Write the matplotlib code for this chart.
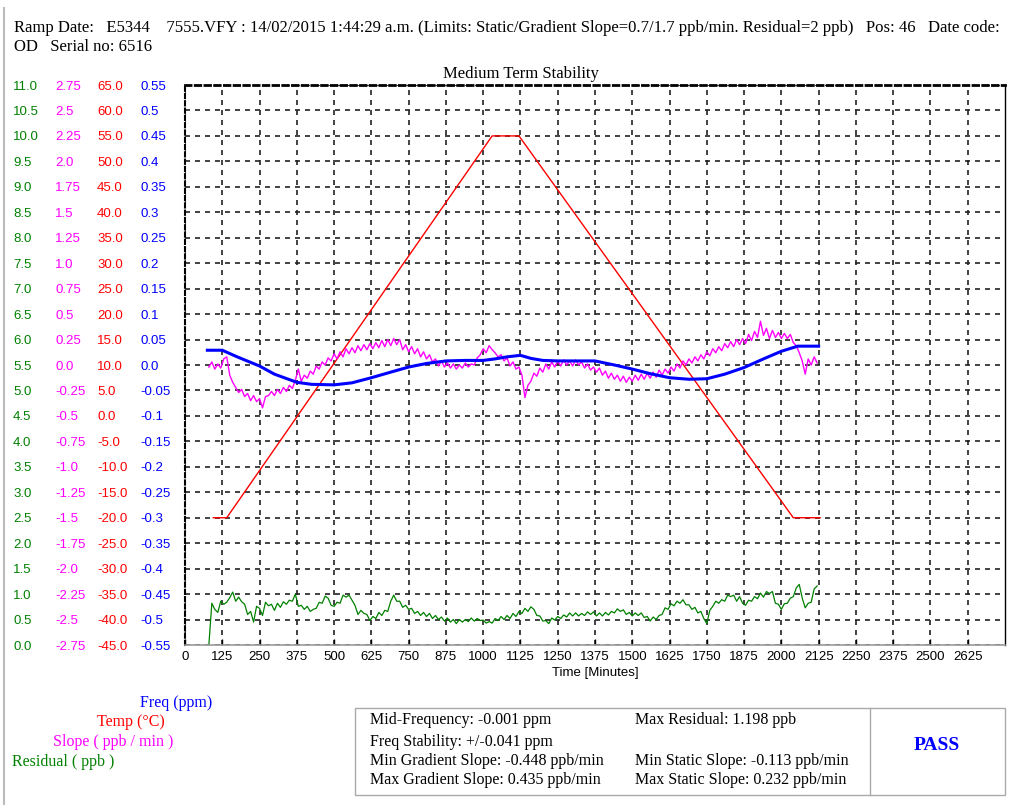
import numpy as np
import matplotlib.pyplot as plt
from matplotlib.patches import Rectangle
from matplotlib.lines import Line2D

plt.rcParams['font.family'] = ['Liberation Sans', 'DejaVu Sans']

# ---- data ----

# residual (ppb), sampled every 10 min from t=80
residual_time = np.arange(80, 2121, 10)
residual = [
    0.00, 0.82, 0.70, 0.64, 0.86, 0.80, 0.84, 0.93, 1.04, 0.86,
    0.94, 0.85, 0.80, 0.60, 0.66, 0.45, 0.76, 0.72, 0.58, 0.84,
    0.77, 0.80, 0.68, 0.82, 0.74, 0.85, 0.80, 0.88, 0.86, 1.00,
    0.76, 0.78, 0.70, 0.76, 0.66, 0.70, 0.72, 0.84, 0.82, 0.96,
    0.92, 0.78, 0.76, 0.84, 0.82, 0.98, 0.94, 0.98, 0.88, 0.78,
    0.60, 0.68, 0.62, 0.60, 0.48, 0.56, 0.52, 0.64, 0.58, 0.68,
    0.66, 0.86, 0.98, 0.86, 0.86, 0.74, 0.78, 0.70, 0.72, 0.62,
    0.66, 0.58, 0.64, 0.56, 0.62, 0.52, 0.58, 0.50, 0.55, 0.47,
    0.53, 0.45, 0.50, 0.42, 0.50, 0.45, 0.50, 0.46, 0.53, 0.47,
    0.52, 0.48, 0.49, 0.43, 0.46, 0.43, 0.52, 0.48, 0.56, 0.50,
    0.58, 0.52, 0.62, 0.56, 0.66, 0.62, 0.72, 0.66, 0.75, 0.70,
    0.58, 0.57, 0.47, 0.48, 0.42, 0.53, 0.49, 0.56, 0.52, 0.59,
    0.55, 0.63, 0.57, 0.63, 0.57, 0.62, 0.58, 0.65, 0.60, 0.65,
    0.57, 0.63, 0.57, 0.64, 0.59, 0.66, 0.63, 0.71, 0.66, 0.69,
    0.60, 0.64, 0.57, 0.63, 0.58, 0.63, 0.54, 0.56, 0.47, 0.55,
    0.50, 0.58, 0.60, 0.73, 0.70, 0.81, 0.77, 0.86, 0.82, 0.89,
    0.79, 0.79, 0.70, 0.74, 0.63, 0.66, 0.52, 0.42, 0.68, 0.76,
    0.86, 0.82, 0.89, 0.86, 0.98, 0.95, 0.98, 0.86, 0.95, 0.82,
    0.78, 0.88, 0.86, 0.95, 0.91, 1.02, 0.94, 1.05, 1.01, 1.05,
    0.82, 0.80, 0.70, 0.81, 0.82, 0.92, 0.95, 1.12, 1.19, 0.92,
    0.73, 0.82, 0.84, 1.10, 1.16,
]

# slope (ppb/min), sampled every 10 min from t=80
slope_time = np.arange(80, 2121, 10)
slope = [
    -0.02, 0.03, -0.04, 0.01, -0.03, 0.06, 0.08, -0.10, -0.17, -0.22,
    -0.27, -0.24, -0.31, -0.28, -0.35, -0.30, -0.36, -0.33, -0.42, -0.31,
    -0.30, -0.26, -0.30, -0.24, -0.28, -0.22, -0.26, -0.20, -0.23, -0.15,
    -0.04, -0.16, -0.10, -0.13, -0.06, -0.09, -0.01, -0.04, 0.03, 0.00,
    0.07, 0.04, 0.11, 0.06, 0.13, 0.08, 0.16, 0.11, 0.17, 0.12,
    0.19, 0.14, 0.20, 0.15, 0.21, 0.16, 0.22, 0.17, 0.24, 0.18,
    0.25, 0.19, 0.26, 0.20, 0.25, 0.15, 0.20, 0.13, 0.18, 0.11,
    0.16, 0.08, 0.13, 0.06, 0.10, 0.03, 0.06, -0.01, 0.04, -0.02,
    0.02, -0.03, 0.01, -0.04, 0.00, -0.03, 0.02, -0.02, 0.01, 0.00,
    0.07, 0.10, 0.16, 0.12, 0.19, 0.15, 0.12, 0.08, 0.10, 0.04,
    0.07, -0.01, 0.03, -0.04, -0.02, -0.10, -0.32, -0.20, -0.16, -0.08,
    -0.11, -0.03, -0.07, 0.01, -0.04, 0.03, -0.02, 0.04, -0.01, 0.05,
    0.00, 0.04, -0.01, 0.05, 0.00, 0.03, -0.03, 0.01, -0.05, -0.02,
    -0.07, -0.03, -0.10, -0.06, -0.13, -0.08, -0.14, -0.10, -0.16, -0.11,
    -0.17, -0.12, -0.16, -0.10, -0.15, -0.09, -0.14, -0.08, -0.13, -0.07,
    -0.12, -0.05, -0.10, -0.04, -0.08, -0.02, -0.06, 0.01, -0.03, 0.04,
    0.00, 0.06, 0.02, 0.08, 0.04, 0.10, 0.06, 0.13, 0.09, 0.16,
    0.12, 0.18, 0.14, 0.21, 0.17, 0.23, 0.18, 0.25, 0.20, 0.26,
    0.21, 0.30, 0.24, 0.33, 0.27, 0.43, 0.29, 0.36, 0.26, 0.34,
    0.27, 0.32, 0.26, 0.31, 0.26, 0.30, 0.22, 0.19, 0.12, 0.04,
    -0.09, 0.06, 0.00, 0.08, 0.02,
]

# frequency (ppm)
freq_time = [75, 125, 175, 250, 300, 375, 425, 500, 560, 625, 690, 750,
             810, 875, 940, 1000, 1040, 1080, 1125, 1160, 1200, 1250, 1300,
             1375, 1440, 1500, 1560, 1625, 1690, 1750, 1810, 1875, 1940,
             2000, 2055, 2125]
freq = [0.029, 0.029, 0.016, -0.002, -0.018, -0.034, -0.038, -0.039, -0.035,
        -0.025, -0.014, -0.004, 0.003, 0.008, 0.009, 0.009, 0.012, 0.016,
        0.019, 0.013, 0.009, 0.008, 0.008, 0.008, 0.000, -0.008, -0.017,
        -0.025, -0.028, -0.027, -0.018, -0.005, 0.012, 0.027, 0.037, 0.037]

# temperature profile (C)
temp_time = [95, 140, 1030, 1120, 2040, 2130]
temp = [-20, -20, 55, 55, -20, -20]

x_ticks = np.arange(0, 2626, 125)

header_1 = ("Ramp Date:   E5344    7555.VFY : 14/02/2015 1:44:29 a.m. "
            "(Limits: Static/Gradient Slope=0.7/1.7 ppb/min. Residual=2 ppb)   "
            "Pos: 46   Date code:")
header_2 = "OD   Serial no: 6516"

stats_left = ["Mid-Frequency: -0.001 ppm", "Freq Stability: +/-0.041 ppm",
              "Min Gradient Slope: -0.448 ppb/min", "Max Gradient Slope: 0.435 ppb/min"]
stats_right = ["Max Residual: 1.198 ppb", "",
               "Min Static Slope: -0.113 ppb/min", "Max Static Slope: 0.232 ppb/min"]

GREEN, MAGENTA, RED, BLUE = '#008000', '#ff00ff', '#ff0000', '#0000ff'


def fmt(v):
    s = f"{np.round(v, 2) + 0.0:.2f}".rstrip('0')
    if s.endswith('.'):
        s += '0'
    return s


W, H = 1020, 805
L, R, T, B = 185, 1005, 85, 645


def px(x, y):
    return x / W, 1 - y / H


fig = plt.figure(figsize=(W / 100, H / 100), dpi=100)
ax = fig.add_axes([L / W, 1 - B / H, (R - L) / W, (B - T) / H])
ax_temp = ax.twinx()
ax_slope = ax.twinx()
ax_freq = ax.twinx()

# four stacked y scales, all labelled on the left
scales = [
    (ax, 0, 11, GREEN, 172),
    (ax_slope, -2.75, 2.75, MAGENTA, 130),
    (ax_temp, -45, 65, RED, 88),
    (ax_freq, -0.55, 0.55, BLUE, 45),
]
for a, lo, hi, col, pad in scales:
    ticks = np.linspace(lo, hi, 23)
    a.set_ylim(lo, hi)
    a.set_yticks(ticks)
    if a is ax_temp or a is ax:
        labels = [f"{t:.1f}" for t in ticks]
    else:
        labels = [fmt(t) for t in ticks]
    a.set_yticklabels(labels, ha='left')
    if a is not ax:
        a.yaxis.tick_left()
        for sp in a.spines.values():
            sp.set_visible(False)
    a.tick_params(axis='y', length=0, pad=pad * 0.72, labelcolor=col, labelsize=9.5)

ax.set_xlim(0, 2750)
ax.set_xticks(x_ticks)
ax.set_xticklabels([str(t) for t in x_ticks])
ax.tick_params(axis='x', direction='in', length=4, width=1, pad=4, labelsize=9.5)
ax.set_xlabel("Time [Minutes]", fontsize=9.5, labelpad=3)

ax.grid(True, color='#222222', linestyle=(0, (3, 3)), linewidth=1.2)
ax.set_axisbelow(True)
ax.spines['left'].set_linestyle((0, (2, 1.5)))
ax.spines['left'].set_linewidth(1.5)
ax.spines['top'].set_linestyle((0, (2, 1.5)))
ax.spines['top'].set_linewidth(2)
ax.spines['right'].set_linewidth(1)
ax.spines['bottom'].set_color('#999999')
ax.spines['bottom'].set_linewidth(1.2)

ax.plot(residual_time, residual, color=GREEN, lw=0.9)
ax_temp.plot(temp_time, temp, color=RED, lw=1.0)
ax_slope.plot(slope_time, slope, color=MAGENTA, lw=1.0)
ax_freq.plot(freq_time, freq, color=BLUE, lw=2.2)

# texts
serif = ['Liberation Serif', 'DejaVu Serif']
fig.text(*px(14, 28), header_1, family=serif, fontsize=12, va='center', ha='left')
fig.text(*px(14, 47), header_2, family=serif, fontsize=12, va='center', ha='left')
fig.text(*px(521, 74), "Medium Term Stability", family=serif, fontsize=12,
         va='center', ha='center')

fig.text(*px(140, 703), "Freq (ppm)", family=serif, fontsize=11.5, color=BLUE, va='center')
fig.text(*px(97, 722), "Temp (\u00b0C)", family=serif, fontsize=11.5, color=RED, va='center')
fig.text(*px(53, 742), "Slope ( ppb / min )", family=serif, fontsize=11.5, color=MAGENTA, va='center')
fig.text(*px(12, 762), "Residual ( ppb )", family=serif, fontsize=11.5, color=GREEN, va='center')

# stats box
x0, y0 = px(355, 795)
fig.add_artist(Rectangle((x0, y0), 650 / W, 87 / H, fill=False, ec='#aaaaaa', lw=1,
                         transform=fig.transFigure))
fig.add_artist(Line2D([870 / W, 870 / W], [1 - 708 / H, 1 - 795 / H], color='#aaaaaa',
                      lw=1, transform=fig.transFigure))
rows_y = [720, 742, 761, 780]
for s, y in zip(stats_left, rows_y):
    fig.text(*px(370, y), s, family=serif, fontsize=11.5, va='center')
for s, y in zip(stats_right, rows_y):
    fig.text(*px(635, y), s, family=serif, fontsize=11.5, va='center')
fig.text(*px(937, 745), "PASS", family=serif, fontsize=14, weight='bold', color=BLUE,
         va='center', ha='center')

fig.add_artist(Line2D([4 / W, 4 / W], [0, 1 - 8 / H], color='#bbbbbb', lw=1.5,
                      transform=fig.transFigure))

fig.savefig("out.png", dpi=100)
